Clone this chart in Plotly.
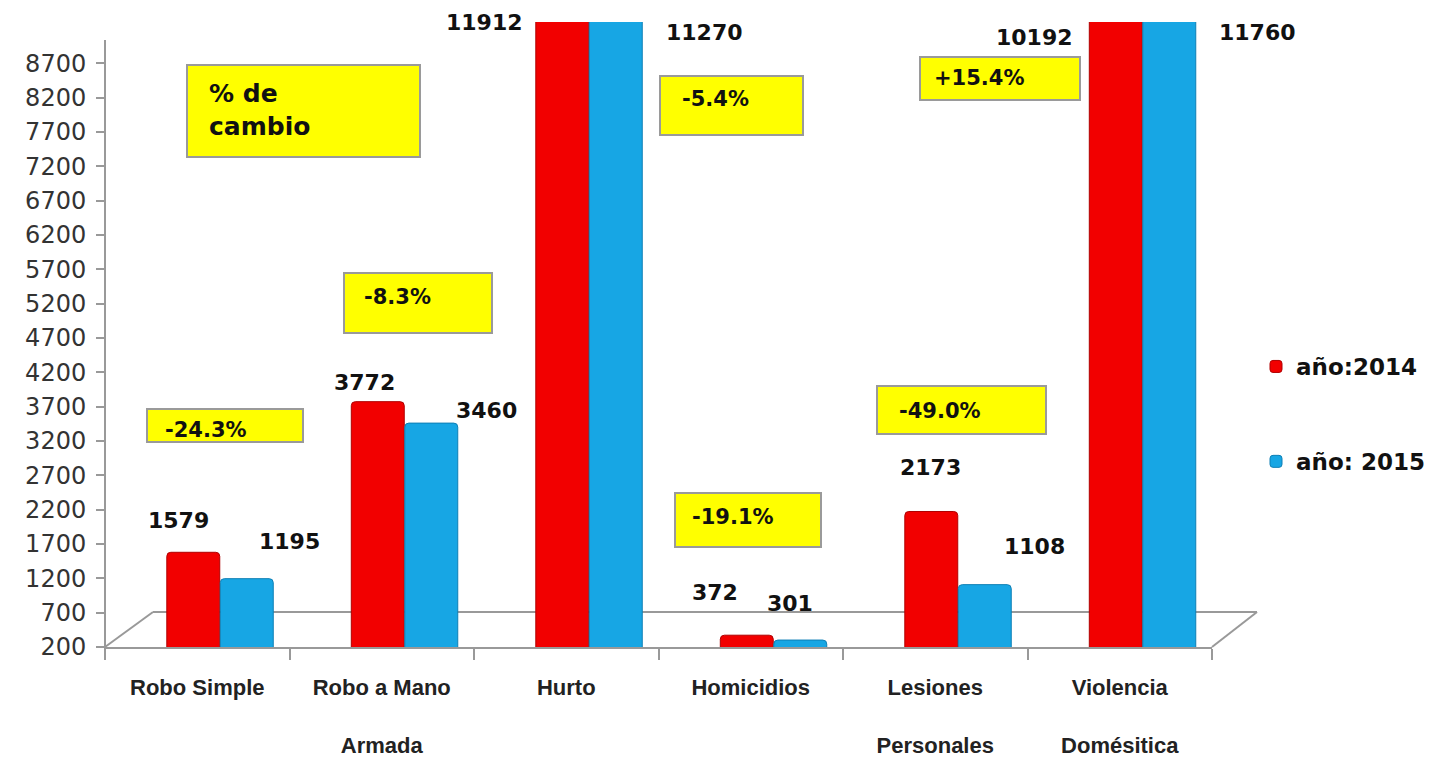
import plotly.graph_objects as go

# ---------------- data ----------------
categories = ["Robo Simple", "Robo a Mano Armada", "Hurto", "Homicidios",
              "Lesiones Personales", "Violencia Doméstica"]
tick_labels = ["Robo Simple", "Robo a Mano<br><br>Armada", "Hurto", "Homicidios",
               "Lesiones<br><br>Personales", "Violencia<br><br>Domésitica"]
values_2014 = [1579, 3772, 11912, 372, 2173, 10192]
values_2015 = [1195, 3460, 11270, 301, 1108, 11760]
series_names = ["año:2014", "año: 2015"]
y_ticks = list(range(200, 8701, 500))

# ---------------- layout helpers ----------------
W, H = 1439, 760
L, R, T, B = 105, 1212, 22, 647
YMIN, YMAX = 200, 9300


def xp(px):
    return (px - L) / (R - L)


def yp(py):
    return (B - py) / (B - T)


RED = "#F20000"
BLUE = "#17A6E4"
BAR_W = 0.287
OFF_14, OFF_15 = -0.165, 0.125
LABEL_FONT = dict(family="DejaVu Sans", size=22, color="#111111", weight="bold")

# label pixel offsets from each bar's top centre (layout only)
lab_dx_14 = [-15, -13, -78, -32, -1, -81]
lab_dy_14 = [32, 19, 0, 43, 44, -15]
lab_dx_15 = [43, 55, 89, -10, 50, 88]
lab_dy_15 = [37, 13, -10, 37, 38, -10]

fig = go.Figure()
fig.add_bar(x=categories, y=values_2014, name=series_names[0], offset=OFF_14, width=BAR_W,
            marker=dict(color=RED, line=dict(color="#B00000", width=1), cornerradius=4),
            legendgroup="a")
fig.add_bar(x=categories, y=values_2015, name=series_names[1], offset=OFF_15, width=BAR_W,
            marker=dict(color=BLUE, line=dict(color="#0E7FB5", width=1), cornerradius=4),
            legendgroup="b")

annotations = []
# value labels
for i, (v14, v15) in enumerate(zip(values_2014, values_2015)):
    c14 = i + OFF_14 + BAR_W / 2
    c15 = i + OFF_15 + BAR_W / 2
    annotations.append(dict(x=c14, y=min(v14, YMAX), xref="x", yref="y", text=str(v14),
                            showarrow=False, xshift=lab_dx_14[i], yshift=lab_dy_14[i],
                            font=LABEL_FONT))
    annotations.append(dict(x=c15, y=min(v15, YMAX), xref="x", yref="y", text=str(v15),
                            showarrow=False, xshift=lab_dx_15[i], yshift=lab_dy_15[i],
                            font=LABEL_FONT))

# percentage-change boxes
pct_boxes = [(147, 409, 303, 442), (344, 273, 492, 333), (660, 76, 803, 135),
             (675, 493, 821, 547), (877, 386, 1046, 434), (920, 57, 1080, 100)]
pct_text_pos = [(163, 430), (362, 297), (680, 99), (690, 517), (897, 411), (932, 78)]
shapes = []
PCT_FONT = dict(family="DejaVu Sans", size=21, color="#111111", weight="bold")
for i, (v14, v15) in enumerate(zip(values_2014, values_2015)):
    pct = (v15 - v14) / v14 * 100
    x0, y0, x1, y1 = pct_boxes[i]
    shapes.append(dict(type="rect", xref="paper", yref="paper", x0=xp(x0), x1=xp(x1),
                       y0=yp(y1), y1=yp(y0), fillcolor="#FFFF00",
                       line=dict(color="#9A9A9A", width=2), layer="above"))
    tx, ty = pct_text_pos[i]
    annotations.append(dict(x=xp(tx), y=yp(ty), xref="paper", yref="paper", xanchor="left",
                            yanchor="middle", text=f"{pct:+.1f}%", showarrow=False, font=PCT_FONT))

# title box "% de cambio"
shapes.append(dict(type="rect", xref="paper", yref="paper", x0=xp(187), x1=xp(420),
                   y0=yp(157), y1=yp(65), fillcolor="#FFFF00",
                   line=dict(color="#9A9A9A", width=2), layer="above"))
annotations.append(dict(x=xp(207), y=yp(110), xref="paper", yref="paper", xanchor="left",
                        yanchor="middle", align="left", text="% de<br>cambio", showarrow=False,
                        font=dict(family="DejaVu Sans", size=25, color="#111111", weight="bold")))

# 3D-ish floor and vertical axis line
GRAY = "#999999"
for (ax0, ay0, ax1, ay1) in [(105, 647, 153, 612), (153, 612, 1257, 612), (1212, 647, 1257, 612)]:
    shapes.append(dict(type="line", xref="paper", yref="paper", x0=xp(ax0), y0=yp(ay0),
                       x1=xp(ax1), y1=yp(ay1), line=dict(color=GRAY, width=2), layer="below"))
shapes.append(dict(type="line", xref="paper", yref="paper", x0=xp(105), y0=yp(658),
                   x1=xp(105), y1=yp(40), line=dict(color=GRAY, width=2), layer="below"))

fig.update_layout(
    width=W, height=H,
    margin=dict(l=L, r=W - R, t=T, b=H - B, autoexpand=False),
    paper_bgcolor="white", plot_bgcolor="white",
    barmode="group",
    showlegend=True,
    legend=dict(x=xp(1256), y=yp(345), xanchor="left", yanchor="top",
                font=dict(family="DejaVu Sans", size=23, color="#111111", weight="bold"),
                tracegroupgap=62, bgcolor="rgba(0,0,0,0)"),
    xaxis=dict(type="category", tickvals=categories, ticktext=tick_labels,
               range=[-0.5, len(categories) - 0.5],
               showline=True, linecolor=GRAY, linewidth=2, ticks="outside",
               tickson="boundaries", ticklen=11, tickwidth=2, tickcolor=GRAY,
               showgrid=False, zeroline=False, ticklabelstandoff=20,
               tickfont=dict(family="Liberation Sans Narrow, Liberation Sans", size=22,
                             color="#222222", weight="bold")),
    yaxis=dict(range=[YMIN, YMAX], tickvals=y_ticks, ticks="outside", ticklen=8,
               tickwidth=2, tickcolor=GRAY, showline=False, showgrid=False, zeroline=False,
               ticklabelstandoff=5,
               tickfont=dict(family="DejaVu Sans", size=24, color="#333333")),
    annotations=annotations,
    shapes=shapes,
)

fig.write_html("out.html", config={"displayModeBar": False},
               post_script="document.body.style.margin='0';document.body.style.overflow='hidden';")
